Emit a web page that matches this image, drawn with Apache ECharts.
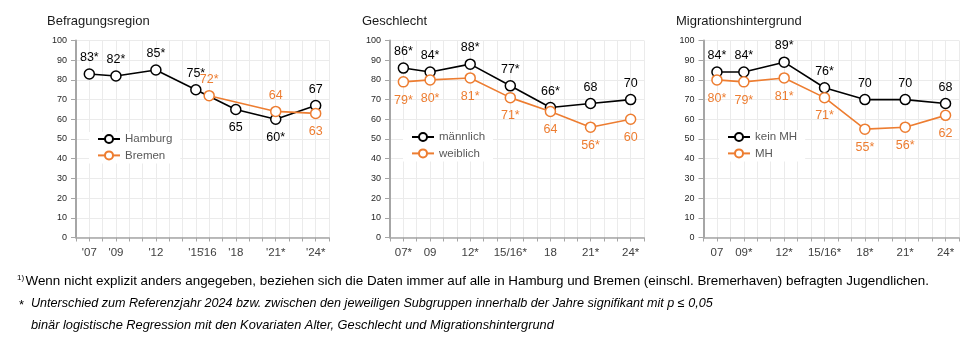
<!DOCTYPE html>
<html>
<head>
<meta charset="utf-8">
<script src="https://cdn.jsdelivr.net/npm/echarts@6/dist/echarts.min.js"></script>
<style>
  html, body { margin: 0; padding: 0; background: #fff; }
  #chart { width: 973px; height: 346px; }
</style>
</head>
<body>
<div id="chart"></div>
<script>
// Panel 1: Befragungsregion
const regionTickYears = [2007, 2009, 2012, 2015, 2016, 2018, 2021, 2024];
const regionTickLabels = ["'07", "'09", "'12", "'15", "'16", "'18", "'21*", "'24*"];
const hamburgYears = [2007, 2009, 2012, 2015, 2018, 2021, 2024];
const hamburgValues = [83, 82, 85, 75, 65, 60, 67];
const hamburgLabels = ['83*', '82*', '85*', '75*', '65', '60*', '67'];
const bremenYears = [2016, 2021, 2024];
const bremenValues = [72, 64, 63];
const bremenLabels = ['72*', '64', '63'];

// Panel 2: Geschlecht
const genderTickYears = [2007, 2009, 2012, 2015, 2018, 2021, 2024];
const genderTickLabels = ['07*', '09', '12*', '15/16*', '18', '21*', '24*'];
const maleValues = [86, 84, 88, 77, 66, 68, 70];
const maleLabels = ['86*', '84*', '88*', '77*', '66*', '68', '70'];
const femaleValues = [79, 80, 81, 71, 64, 56, 60];
const femaleLabels = ['79*', '80*', '81*', '71*', '64', '56*', '60'];

// Panel 3: Migrationshintergrund
const migTickYears = [2007, 2009, 2012, 2015, 2018, 2021, 2024];
const migTickLabels = ['07', '09*', '12*', '15/16*', '18*', '21*', '24*'];
const noMigValues = [84, 84, 89, 76, 70, 70, 68];
const noMigLabels = ['84*', '84*', '89*', '76*', '70', '70', '68'];
const migValues = [80, 79, 81, 71, 55, 56, 62];
const migLabels = ['80*', '79*', '81*', '71*', '55*', '56*', '62'];

const yTicks = [0, 10, 20, 30, 40, 50, 60, 70, 80, 90, 100];

const BLACK = '#000000';
const ORANGE = '#ED7D31';
const AXIS_GREY = '#A6A6A6';
const GRID_GREY = '#EBEBEB';
const FONT = '"Liberation Sans", Arial, sans-serif';

// label placement per point: 'top' or 'bottom'
const hamburgSides = ['top', 'top', 'top', 'top', 'bottom', 'bottom', 'top'];
const bremenSides = ['top', 'top', 'bottom'];

const grids = [
  { left: 76, top: 40.5, width: 253, height: 197 },
  { left: 390, top: 40.5, width: 254, height: 197 },
  { left: 703.5, top: 40.5, width: 255.5, height: 197 }
];

function pairs(years, values) {
  return years.map((y, i) => [y, values[i]]);
}

function makeXAxis(gridIndex, tickYears, tickLabels) {
  const lookup = {};
  tickYears.forEach((y, i) => { lookup[y] = tickLabels[i]; });
  return {
    type: 'value', gridIndex, min: 2006, max: 2025, interval: 1,
    axisLine: { show: true, lineStyle: { color: AXIS_GREY, width: 1.5 } },
    axisTick: { show: true, length: 4, lineStyle: { color: AXIS_GREY } },
    axisLabel: {
      formatter: v => lookup[v] || '',
      fontSize: 11.5, color: '#404040', margin: 9, fontFamily: FONT,
      showMinLabel: true, showMaxLabel: true
    },
    splitLine: { show: true, lineStyle: { color: GRID_GREY, width: 1 } }
  };
}

function makeYAxis(gridIndex) {
  return {
    type: 'value', gridIndex, min: yTicks[0], max: yTicks[yTicks.length - 1], interval: 10,
    axisLine: { show: true, lineStyle: { color: AXIS_GREY, width: 2 } },
    axisTick: { show: true, length: 5, lineStyle: { color: AXIS_GREY } },
    axisLabel: { fontSize: 9, color: '#262626', margin: 9, fontFamily: FONT },
    splitLine: { show: true, lineStyle: { color: GRID_GREY, width: 1 } }
  };
}

function makeSeries(name, gridIndex, data, labels, color, sides) {
  return {
    name, type: 'line', xAxisIndex: gridIndex, yAxisIndex: gridIndex,
    data: data.map((d, i) => ({
      value: d,
      label: { position: sides[i], distance: sides[i] === 'top' ? 4 : 6 }
    })),
    symbol: 'circle', symbolSize: 10,
    itemStyle: { color: '#ffffff', borderColor: color, borderWidth: 1.5 },
    lineStyle: { color, width: 1.6 },
    label: {
      show: true,
      formatter: p => labels[p.dataIndex],
      color, fontSize: 12.5, fontFamily: FONT
    },
    emphasis: { disabled: true },
    animation: false
  };
}

const allTop = n => Array(n).fill('top');
const allBottom = n => Array(n).fill('bottom');

function makeLegend(names, left, top) {
  return {
    data: names, orient: 'vertical', left, top,
    backgroundColor: '#ffffff',
    padding: [1, 8, 2, 8],
    itemGap: 4.4, itemWidth: 22, itemHeight: 10,
    textStyle: { fontSize: 11.5, color: '#595959', fontFamily: FONT },
    selectedMode: false
  };
}

const titleStyle = { fontSize: 13, fontWeight: 'normal', color: '#1a1a1a', fontFamily: FONT };

const option = {
  animation: false,
  textStyle: { fontFamily: FONT },
  title: [
    { text: 'Befragungsregion', left: 47, top: 15, textStyle: titleStyle, padding: 0 },
    { text: 'Geschlecht', left: 362, top: 15, textStyle: titleStyle, padding: 0 },
    { text: 'Migrationshintergrund', left: 676, top: 15, textStyle: titleStyle, padding: 0 }
  ],
  grid: grids,
  xAxis: [
    makeXAxis(0, regionTickYears, regionTickLabels),
    makeXAxis(1, genderTickYears, genderTickLabels),
    makeXAxis(2, migTickYears, migTickLabels)
  ],
  yAxis: [makeYAxis(0), makeYAxis(1), makeYAxis(2)],
  legend: [
    makeLegend(['Hamburg', 'Bremen'], 89, 132),
    makeLegend(['männlich', 'weiblich'], 403, 130),
    makeLegend(['kein MH', 'MH'], 719, 130)
  ],
  series: [
    makeSeries('Hamburg', 0, pairs(hamburgYears, hamburgValues), hamburgLabels, BLACK, hamburgSides),
    makeSeries('Bremen', 0, pairs(bremenYears, bremenValues), bremenLabels, ORANGE, bremenSides),
    makeSeries('männlich', 1, pairs(genderTickYears, maleValues), maleLabels, BLACK, allTop(7)),
    makeSeries('weiblich', 1, pairs(genderTickYears, femaleValues), femaleLabels, ORANGE, allBottom(7)),
    makeSeries('kein MH', 2, pairs(migTickYears, noMigValues), noMigLabels, BLACK, allTop(7)),
    makeSeries('MH', 2, pairs(migTickYears, migValues), migLabels, ORANGE, allBottom(7))
  ],
  graphic: [
    { type: 'text', left: 17, top: 274, style: { text: '1)', fontSize: 8, fill: '#000', fontFamily: FONT } },
    { type: 'text', left: 25.5, top: 275, style: {
      text: 'Wenn nicht explizit anders angegeben, beziehen sich die Daten immer auf alle in Hamburg und Bremen (einschl. Bremerhaven) befragten Jugendlichen.',
      fontSize: 13.4, fill: '#000', fontFamily: FONT } },
    { type: 'text', left: 19, top: 299, style: { text: '*', fontSize: 13, fill: '#000', fontFamily: FONT } },
    { type: 'text', left: 31, top: 297, style: {
      text: 'Unterschied zum Referenzjahr 2024 bzw. zwischen den jeweiligen Subgruppen innerhalb der Jahre signifikant mit p ≤ 0,05',
      fontSize: 12.6, fontStyle: 'italic', fill: '#000', fontFamily: FONT } },
    { type: 'text', left: 31, top: 319, style: {
      text: 'binär logistische Regression mit den Kovariaten Alter, Geschlecht und Migrationshintergrund',
      fontSize: 12.8, fontStyle: 'italic', fill: '#000', fontFamily: FONT } }
  ]
};

const chart = echarts.init(document.getElementById('chart'), null, { renderer: 'canvas' });
chart.setOption(option);
</script>
</body>
</html>
